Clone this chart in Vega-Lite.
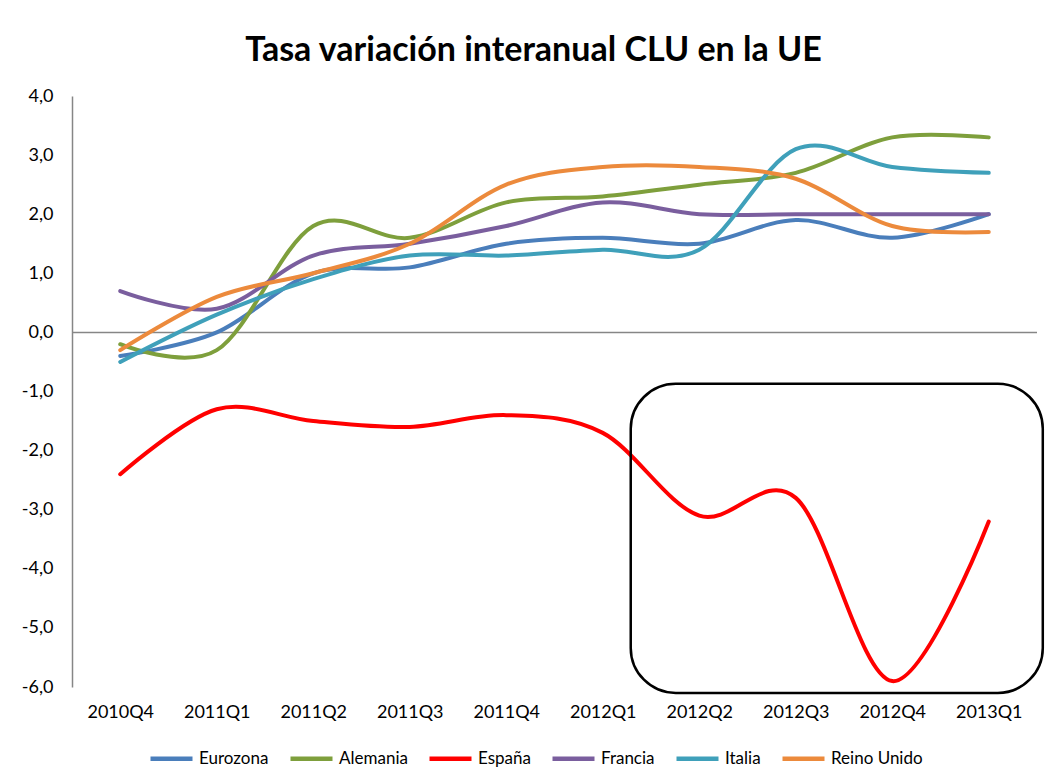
{
  "$schema": "https://vega.github.io/schema/vega-lite/v6.json",
  "width": 965,
  "height": 591,
  "autosize": {"type": "none"},
  "padding": {"left": 72, "top": 96, "right": 11, "bottom": 93},
  "background": "white",
  "config": {
    "view": {"stroke": null},
    "font": "Lato"
  },
  "title": {
    "text": "Tasa variación interanual CLU en la UE",
    "font": "Lato",
    "fontSize": 34,
    "fontWeight": "bold",
    "color": "#000000",
    "anchor": "middle",
    "offset": 19,
    "dx": -21
  },
  "datasets": {
    "series": [
      {"serie": "Eurozona", "periodo": "2010Q4", "i": 0, "valor": -0.4},
      {"serie": "Eurozona", "periodo": "2011Q1", "i": 1, "valor": 0.0},
      {"serie": "Eurozona", "periodo": "2011Q2", "i": 2, "valor": 1.0},
      {"serie": "Eurozona", "periodo": "2011Q3", "i": 3, "valor": 1.1},
      {"serie": "Eurozona", "periodo": "2011Q4", "i": 4, "valor": 1.5},
      {"serie": "Eurozona", "periodo": "2012Q1", "i": 5, "valor": 1.6},
      {"serie": "Eurozona", "periodo": "2012Q2", "i": 6, "valor": 1.5},
      {"serie": "Eurozona", "periodo": "2012Q3", "i": 7, "valor": 1.9},
      {"serie": "Eurozona", "periodo": "2012Q4", "i": 8, "valor": 1.6},
      {"serie": "Eurozona", "periodo": "2013Q1", "i": 9, "valor": 2.0},
      {"serie": "Alemania", "periodo": "2010Q4", "i": 0, "valor": -0.2},
      {"serie": "Alemania", "periodo": "2011Q1", "i": 1, "valor": -0.3},
      {"serie": "Alemania", "periodo": "2011Q2", "i": 2, "valor": 1.8},
      {"serie": "Alemania", "periodo": "2011Q3", "i": 3, "valor": 1.6},
      {"serie": "Alemania", "periodo": "2011Q4", "i": 4, "valor": 2.2},
      {"serie": "Alemania", "periodo": "2012Q1", "i": 5, "valor": 2.3},
      {"serie": "Alemania", "periodo": "2012Q2", "i": 6, "valor": 2.5},
      {"serie": "Alemania", "periodo": "2012Q3", "i": 7, "valor": 2.7},
      {"serie": "Alemania", "periodo": "2012Q4", "i": 8, "valor": 3.3},
      {"serie": "Alemania", "periodo": "2013Q1", "i": 9, "valor": 3.3},
      {"serie": "España", "periodo": "2010Q4", "i": 0, "valor": -2.4},
      {"serie": "España", "periodo": "2011Q1", "i": 1, "valor": -1.3},
      {"serie": "España", "periodo": "2011Q2", "i": 2, "valor": -1.5},
      {"serie": "España", "periodo": "2011Q3", "i": 3, "valor": -1.6},
      {"serie": "España", "periodo": "2011Q4", "i": 4, "valor": -1.4},
      {"serie": "España", "periodo": "2012Q1", "i": 5, "valor": -1.7},
      {"serie": "España", "periodo": "2012Q2", "i": 6, "valor": -3.1},
      {"serie": "España", "periodo": "2012Q3", "i": 7, "valor": -2.8},
      {"serie": "España", "periodo": "2012Q4", "i": 8, "valor": -5.9},
      {"serie": "España", "periodo": "2013Q1", "i": 9, "valor": -3.2},
      {"serie": "Francia", "periodo": "2010Q4", "i": 0, "valor": 0.7},
      {"serie": "Francia", "periodo": "2011Q1", "i": 1, "valor": 0.4},
      {"serie": "Francia", "periodo": "2011Q2", "i": 2, "valor": 1.3},
      {"serie": "Francia", "periodo": "2011Q3", "i": 3, "valor": 1.5},
      {"serie": "Francia", "periodo": "2011Q4", "i": 4, "valor": 1.8},
      {"serie": "Francia", "periodo": "2012Q1", "i": 5, "valor": 2.2},
      {"serie": "Francia", "periodo": "2012Q2", "i": 6, "valor": 2.0},
      {"serie": "Francia", "periodo": "2012Q3", "i": 7, "valor": 2.0},
      {"serie": "Francia", "periodo": "2012Q4", "i": 8, "valor": 2.0},
      {"serie": "Francia", "periodo": "2013Q1", "i": 9, "valor": 2.0},
      {"serie": "Italia", "periodo": "2010Q4", "i": 0, "valor": -0.5},
      {"serie": "Italia", "periodo": "2011Q1", "i": 1, "valor": 0.3},
      {"serie": "Italia", "periodo": "2011Q2", "i": 2, "valor": 0.9},
      {"serie": "Italia", "periodo": "2011Q3", "i": 3, "valor": 1.3},
      {"serie": "Italia", "periodo": "2011Q4", "i": 4, "valor": 1.3},
      {"serie": "Italia", "periodo": "2012Q1", "i": 5, "valor": 1.4},
      {"serie": "Italia", "periodo": "2012Q2", "i": 6, "valor": 1.4},
      {"serie": "Italia", "periodo": "2012Q3", "i": 7, "valor": 3.1},
      {"serie": "Italia", "periodo": "2012Q4", "i": 8, "valor": 2.8},
      {"serie": "Italia", "periodo": "2013Q1", "i": 9, "valor": 2.7},
      {"serie": "Reino Unido", "periodo": "2010Q4", "i": 0, "valor": -0.3},
      {"serie": "Reino Unido", "periodo": "2011Q1", "i": 1, "valor": 0.6},
      {"serie": "Reino Unido", "periodo": "2011Q2", "i": 2, "valor": 1.0},
      {"serie": "Reino Unido", "periodo": "2011Q3", "i": 3, "valor": 1.5},
      {"serie": "Reino Unido", "periodo": "2011Q4", "i": 4, "valor": 2.5},
      {"serie": "Reino Unido", "periodo": "2012Q1", "i": 5, "valor": 2.8},
      {"serie": "Reino Unido", "periodo": "2012Q2", "i": 6, "valor": 2.8},
      {"serie": "Reino Unido", "periodo": "2012Q3", "i": 7, "valor": 2.6},
      {"serie": "Reino Unido", "periodo": "2012Q4", "i": 8, "valor": 1.8},
      {"serie": "Reino Unido", "periodo": "2013Q1", "i": 9, "valor": 1.7}
    ],
    "marco": [
      {"desde": 5.29, "hasta": 9.56, "arriba": -0.87, "abajo": -6.1}
    ]
  },
  "layer": [
    {
      "data": {"values": [{"cero": 0}]},
      "mark": {"type": "rule", "color": "#868686", "strokeWidth": 1.5},
      "encoding": {
        "y": {"field": "cero", "type": "quantitative"}
      }
    },
    {
      "data": {"name": "series"},
      "mark": {"type": "line", "interpolate": "cardinal", "tension": 0, "strokeWidth": 4, "strokeCap": "round", "strokeJoin": "round"},
      "encoding": {
        "x": {
          "field": "i",
          "type": "quantitative",
          "scale": {"domain": [-0.5, 9.5], "nice": false, "zero": false},
          "axis": {
            "title": null,
            "values": [0, 1, 2, 3, 4, 5, 6, 7, 8, 9],
            "labelExpr": "['2010Q4','2011Q1','2011Q2','2011Q3','2011Q4','2012Q1','2012Q2','2012Q3','2012Q4','2013Q1'][datum.value]",
            "domain": false,
            "ticks": false,
            "grid": false,
            "labelFont": "Lato",
            "labelFontSize": 18,
            "labelColor": "#000000",
            "labelPadding": 16
          }
        },
        "y": {
          "field": "valor",
          "type": "quantitative",
          "scale": {"domain": [-6, 4], "nice": false, "zero": false},
          "axis": {
            "title": null,
            "values": [-6, -5, -4, -3, -2, -1, 0, 1, 2, 3, 4],
            "labelExpr": "(datum.value < 0 ? '-' : '') + replace(format(abs(datum.value), '.1f'), '.', ',')",
            "grid": false,
            "ticks": false,
            "domain": true,
            "domainColor": "#868686",
            "domainWidth": 1.5,
            "labelFont": "Lato",
            "labelFontSize": 18,
            "labelColor": "#000000",
            "labelPadding": 19
          }
        },
        "color": {
          "field": "serie",
          "type": "nominal",
          "scale": {
            "domain": ["Eurozona", "Alemania", "España", "Francia", "Italia", "Reino Unido"],
            "range": ["#4A7EBB", "#7E9F3C", "#FF0000", "#7A5E9E", "#3FA0BA", "#EC8A3C"]
          },
          "legend": {
            "title": null,
            "orient": "none",
            "legendX": 76,
            "legendY": 639,
            "direction": "horizontal",
            "symbolType": "stroke",
            "symbolSize": 1764,
            "symbolStrokeWidth": 4.5,
            "labelFont": "Lato",
            "labelFontSize": 17,
            "labelColor": "#000000",
            "columnPadding": 12,
            "labelOffset": 4
          }
        },
        "detail": {"field": "serie"}
      }
    },
    {
      "data": {"name": "marco"},
      "mark": {"type": "rect", "fill": null, "fillOpacity": 0, "stroke": "#000000", "strokeWidth": 2.5, "cornerRadius": 45},
      "encoding": {
        "x": {"field": "desde", "type": "quantitative"},
        "x2": {"field": "hasta"},
        "y": {"field": "arriba", "type": "quantitative"},
        "y2": {"field": "abajo"}
      }
    }
  ]
}
